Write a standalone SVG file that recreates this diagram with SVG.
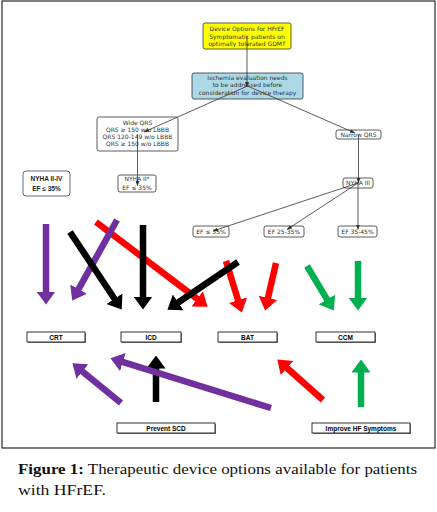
<svg xmlns="http://www.w3.org/2000/svg" width="437" height="512" viewBox="0 0 437 512">
<style>
.fb{stroke:#333;stroke-width:0.8}
.ft{font-family:"DejaVu Sans",sans-serif;font-size:6px;fill:#333;text-anchor:middle}
.fbold{font-family:"Liberation Sans",Arial,sans-serif;font-size:6.5px;font-weight:bold;fill:#222;text-anchor:middle}
.ob{fill:#fff;stroke:#000;stroke-width:0.8}
.sh{fill:#888}
.ot{font-family:"Liberation Sans",Arial,sans-serif;font-size:6.5px;font-weight:bold;fill:#000;text-anchor:middle}
.con{stroke:#333;stroke-width:0.8;fill:none;marker-end:url(#sm)}
.a{fill:none;stroke-width:6.5}
.pu{stroke:#7030a0;marker-end:url(#hp)}
.rd{stroke:#ff0000;marker-end:url(#hr)}
.bk{stroke:#000;marker-end:url(#hb)}
.gr{stroke:#00b050;marker-end:url(#hg)}
.cap{font-family:"Liberation Serif","Times New Roman",serif;font-size:15px;fill:#111}
</style>
<defs>
<marker id="sm" markerUnits="userSpaceOnUse" viewBox="0 0 5 4" refX="5" refY="2" markerWidth="5" markerHeight="4" orient="auto"><path d="M0,0L5,2L0,4z" fill="#333"/></marker>
<marker id="hp" markerUnits="userSpaceOnUse" viewBox="0 0 13 19" refX="0.5" refY="9.5" markerWidth="13" markerHeight="19" orient="auto"><path d="M0,0L13,9.5L0,19z" fill="#7030a0"/></marker>
<marker id="hr" markerUnits="userSpaceOnUse" viewBox="0 0 13 19" refX="0.5" refY="9.5" markerWidth="13" markerHeight="19" orient="auto"><path d="M0,0L13,9.5L0,19z" fill="#ff0000"/></marker>
<marker id="hb" markerUnits="userSpaceOnUse" viewBox="0 0 13 19" refX="0.5" refY="9.5" markerWidth="13" markerHeight="19" orient="auto"><path d="M0,0L13,9.5L0,19z" fill="#000"/></marker>
<marker id="hg" markerUnits="userSpaceOnUse" viewBox="0 0 13 19" refX="0.5" refY="9.5" markerWidth="13" markerHeight="19" orient="auto"><path d="M0,0L13,9.5L0,19z" fill="#00b050"/></marker>
</defs>
<rect x="0" y="0" width="437" height="512" fill="#fff"/>
<rect x="2" y="1" width="433" height="447" fill="none" stroke="#000" stroke-width="1"/>

<g id="node-device-options">
<rect x="203" y="23" width="88" height="26" rx="2" fill="#ffff00" class="fb"/>
<text class="ft" x="247" y="31">Device Options for HFrEF</text>
<text class="ft" x="247" y="38.6">Symptomatic patients on</text>
<text class="ft" x="247" y="46.2">optimally tolerated GDMT</text>
</g>
<g id="node-ischemia">
<rect x="192" y="73" width="111" height="26" rx="2" fill="#add8e6" class="fb"/>
<text class="ft" x="247.5" y="79.5">Ischemia evaluation needs</text>
<text class="ft" x="247.5" y="87.2">to be addressed before</text>
<text class="ft" x="247.5" y="95.2">consideration for device therapy</text>
</g>
<g id="node-wide-qrs">
<rect x="97" y="117" width="81" height="34" rx="2" fill="#fff" class="fb"/>
<text class="ft" x="137.5" y="125">Wide QRS</text>
<text class="ft" x="137.5" y="131.7">QRS ≥ 150 w/o LBBB</text>
<text class="ft" x="137.5" y="139">QRS 120-149 w/o LBBB</text>
<text class="ft" x="137.5" y="146.3">QRS ≥ 150 w/o LBBB</text>
</g>
<g id="node-narrow-qrs">
<rect x="336" y="130" width="45" height="9" rx="2" fill="#fff" class="fb"/>
<text class="ft" x="358.5" y="136.8">Narrow QRS</text>
</g>
<g id="node-nyha-ii">
<rect x="118" y="175" width="38" height="17" rx="2" fill="#fff" class="fb"/>
<text class="ft" x="137" y="181.2">NYHA II*</text>
<text class="ft" x="137" y="189.5">EF ≤ 35%</text>
</g>
<g id="node-nyha-iii">
<rect x="343" y="178" width="30" height="10" rx="2" fill="#fff" class="fb"/>
<text class="ft" x="358" y="185.2">NYHA III</text>
</g>
<g id="node-nyha-ii-iv">
<rect x="23" y="171" width="47" height="25" rx="3" fill="#fff" stroke="#4a5a78" stroke-width="0.9"/>
<text class="fbold" x="46.5" y="180.8">NYHA II-IV</text>
<text class="fbold" x="46.5" y="190.8">EF ≤ 35%</text>
</g>
<g id="node-ef-le35">
<rect x="193" y="226" width="36" height="11" rx="2" fill="#fff" class="fb"/>
<text class="ft" x="211" y="233.7">EF ≤ 35%</text>
</g>
<g id="node-ef-25-35">
<rect x="264" y="226" width="40" height="11" rx="2" fill="#fff" class="fb"/>
<text class="ft" x="284" y="233.7">EF 25-35%</text>
</g>
<g id="node-ef-35-45">
<rect x="338" y="226" width="39" height="11" rx="2" fill="#fff" class="fb"/>
<text class="ft" x="357.5" y="233.7">EF 35-45%</text>
</g>

<g id="node-crt"><rect class="sh" x="28" y="333" width="58" height="10"/><rect class="ob" x="27" y="332" width="58" height="10"/><text class="ot" x="56" y="339.6">CRT</text></g>
<g id="node-icd"><rect class="sh" x="122" y="333" width="60" height="10"/><rect class="ob" x="121" y="332" width="60" height="10"/><text class="ot" x="151" y="339.6">ICD</text></g>
<g id="node-bat"><rect class="sh" x="219" y="333" width="59" height="10"/><rect class="ob" x="218" y="332" width="59" height="10"/><text class="ot" x="247.5" y="339.6">BAT</text></g>
<g id="node-ccm"><rect class="sh" x="317" y="333" width="59" height="10"/><rect class="ob" x="316" y="332" width="59" height="10"/><text class="ot" x="345.5" y="339.6">CCM</text></g>
<g id="node-prevent-scd"><rect class="sh" x="118" y="424" width="98" height="10"/><rect class="ob" x="117" y="423" width="98" height="10"/><text class="ot" x="166" y="430.6">Prevent SCD</text></g>
<g id="node-improve-hf"><rect class="sh" x="313" y="424" width="98" height="10"/><rect class="ob" x="312" y="423" width="98" height="10"/><text class="ot" x="361" y="430.6">Improve HF Symptoms</text></g>

<g id="connectors">
<path class="con" d="M247,36L247,87"/>
<path class="con" d="M247.5,86L144,132"/>
<path class="con" d="M247.5,86L355,133"/>
<path class="con" d="M137.5,134L137.5,186"/>
<path class="con" d="M358.5,134.5L358.5,183"/>
<path class="con" d="M358,183L213,231"/>
<path class="con" d="M358,183L287,229.5"/>
<path class="con" d="M358,183L358,229.5"/>
</g>

<g id="arrows">
<line class="a rd" x1="96" y1="222" x2="197.6" y2="299.1"/>
<line class="a rd" x1="226" y1="261" x2="238.2" y2="300.6"/>
<line class="a rd" x1="276" y1="263" x2="267.9" y2="298.3"/>
<line class="a pu" x1="46" y1="224" x2="46" y2="292"/>
<line class="a pu" x1="117" y1="220" x2="78.3" y2="289.6"/>
<line class="a bk" x1="70" y1="232" x2="114.8" y2="299.2"/>
<line class="a bk" x1="143" y1="225" x2="143" y2="297"/>
<line class="a bk" x1="238" y1="262" x2="177.8" y2="302.7"/>
<line class="a gr" x1="307" y1="266" x2="327.3" y2="299.9"/>
<line class="a gr" x1="358" y1="261" x2="358" y2="298"/>
<line class="a bk" x1="156" y1="402" x2="156" y2="368"/>
<line class="a pu" x1="121" y1="403" x2="82.1" y2="371.2"/>
<line class="a pu" x1="271" y1="408" x2="122.4" y2="361.9"/>
<line class="a rd" x1="323" y1="400" x2="286.7" y2="367.7"/>
<line class="a gr" x1="361" y1="407" x2="361" y2="372"/>
</g>

<g id="caption">
<text class="cap" x="18" y="474" textLength="399" lengthAdjust="spacingAndGlyphs"><tspan font-weight="bold">Figure 1:</tspan> Therapeutic device options available for patients</text>
<text class="cap" x="18" y="495" textLength="88" lengthAdjust="spacingAndGlyphs">with HFrEF.</text>
</g>
</svg>
